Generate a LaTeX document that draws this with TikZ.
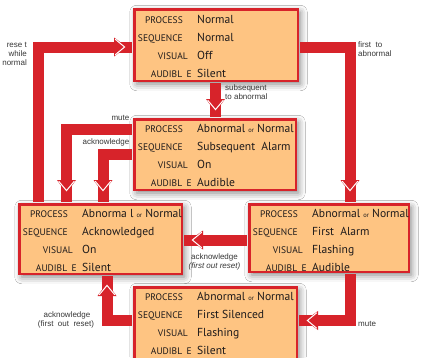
\documentclass[tikz,border=0pt]{standalone}
\usepackage{fontspec}
\setmainfont{PT Sans}
\newfontfamily\capfont{Liberation Sans}
\usetikzlibrary{shadows.blur}
\definecolor{barred}{RGB}{215,35,42}
\definecolor{boxfill}{RGB}{254,196,130}
\definecolor{txt}{RGB}{30,26,27}
\definecolor{captxt}{RGB}{55,55,55}
\newcommand\orf{\fontsize{6.5}{8}\selectfont}
\tikzset{
  statebox/.style={draw=barred, line width=2.5pt, fill=boxfill, inner sep=0pt,
    blur shadow={shadow xshift=2.5pt, shadow yshift=-3pt, shadow blur radius=7pt, shadow opacity=50}},
  bar/.style={draw=barred, line width=11pt, line join=miter, shorten <=1.25pt, shorten >=1.25pt},
  lab/.style={font=\fontsize{9.5}{12}\selectfont, text=txt, inner sep=0pt, anchor=base east},
  val/.style={font=\fontsize{11.6}{14}\selectfont, text=txt, inner sep=0pt, anchor=base west},
  captext/.style={font=\capfont\fontsize{8}{9}\selectfont, text=captxt, inner sep=0pt},
  captextit/.style={font=\capfont\itshape\fontsize{8}{9}\selectfont, text=captxt, inner sep=0pt},
  arrowhd/.pic={
    \fill[barred] (0,0) -- (-13,9.5) -- (-13,-9.5) -- cycle;
    \draw[white, line width=1pt, line join=miter] (-11.8,7.8) -- (-2.4,0) -- (-11.8,-7.8);
  }
}
\newcommand\statetext[7]{%
  \node[lab] (#1l1) at ({#2-14},{#3}) {PROCESS};
  \node[lab] (#1l2) at ({#2-14},{#3+18}) {SEQUENCE};
  \node[lab] (#1l3) at ({#2-9},{#3+36}) {VISUAL};
  \node[lab] (#1l4) at ({#2-5},{#3+54}) {AUDIBL\space\kern2pt E};
  \node[val] (#1v1) at ({#2},{#3}) {#4};
  \node[val] (#1v2) at ({#2},{#3+18}) {#5};
  \node[val] (#1v3) at ({#2},{#3+36}) {#6};
  \node[val] (#1v4) at ({#2},{#3+54}) {#7};
}
\begin{document}
\begin{tikzpicture}[x=1pt, y=-1pt]
\useasboundingbox (0,0) rectangle (422,357);
\clip (0,0) rectangle (422,357);
\fill[white] (0,0) rectangle (422,357);

% boxes
\node[statebox, minimum width=163.5pt, minimum height=71.5pt] (normal) at (216,45) {};
\node[statebox, minimum width=161.5pt, minimum height=70.5pt] (sub) at (215,154.5) {};
\node[statebox, minimum width=162.5pt, minimum height=69.5pt] (ack) at (100.5,239) {};
\node[statebox, minimum width=159.5pt, minimum height=67.5pt] (first) at (329,238) {};
\node[statebox, minimum width=162.5pt, minimum height=73.5pt] (fsil) at (215.5,324) {};

% connectors
\draw[bar] (38,0 |- ack.north) -- (38,47) -- (normal.west |- 0,47);
\draw[bar] (normal.east |- 0,47) -- (350,47) -- (350,0 |- first.north);
\draw[bar] (215.5,0 |- normal.south) -- (215.5,0 |- sub.north);
\draw[bar] (sub.west |- 0,129.5) -- (66.5,129.5) -- (66.5,0 |- ack.north);
\draw[bar] (sub.west |- 0,154) -- (103,154) -- (103,0 |- ack.north);
\draw[bar] (first.west |- 0,240) -- (ack.east |- 0,240);
\draw[bar] (fsil.west |- 0,320.5) -- (107,320.5) -- (107,0 |- ack.south);
\draw[bar] (350,0 |- first.south) -- (350,320.5) -- (fsil.east |- 0,320.5);

% arrowheads
\pic at (127,47) {arrowhd};
\pic[rotate=-90] at (350,193) {arrowhd};
\pic[rotate=-90] at (215.5,112) {arrowhd};
\pic[rotate=-90] at (66.5,193) {arrowhd};
\pic[rotate=-90] at (103,193) {arrowhd};
\pic[rotate=180] at (190,240) {arrowhd};
\pic[rotate=90] at (107,283) {arrowhd};
\pic[rotate=180] at (305,320.5) {arrowhd};

% box texts
\statetext{n}{197}{23.5}{Normal}{Normal}{Off}{Silent}
\statetext{s}{197}{132.5}{Abnormal {\orf or} Normal}{Subsequent\ \ Alarm}{On}{Audible}
\statetext{a}{82}{217.5}{Abnorma l {\orf or} Normal}{Acknowledged}{On}{Silent}
\statetext{f}{312}{217.5}{Abnormal {\orf or} Normal}{First\ \ Alarm}{Flashing}{Audible}
\statetext{q}{197}{300.5}{Abnormal {\orf or} Normal}{First Silenced}{Flashing}{Silent}

% captions
\node[captext, anchor=base east] (c1a) at (27,47.3) {rese t};
\node[captext, anchor=base east] (c1b) at (27,56.3) {while};
\node[captext, anchor=base east] (c1c) at (27,65) {normal};
\node[captext, anchor=base west] (c2a) at (358,47.3) {first\ \ to};
\node[captext, anchor=base west] (c2b) at (358,56.3) {abnormal};
\node[captext, anchor=base west] (c3a) at (225,90.5) {subsequent};
\node[captext, anchor=base west] (c3b) at (225,99) {to abnormal};
\node[captext, anchor=base east] (c4) at (129.5,120) {mute};
\node[captext, anchor=base east] (c5) at (129.5,144.5) {acknowledge};
\node[captext, anchor=base] (c6a) at (214.5,259.5) {acknowledge};
\node[captextit, anchor=base] (c6b) at (214.5,268) {(first out reset)};
\node[captext, anchor=base] (c7a) at (67,317) {acknowledge};
\node[captext, anchor=base] (c7b) at (66,326) {(first\ \ out\ \ reset)};
\node[captext, anchor=base west] (c8) at (358,326.5) {mute};
\end{tikzpicture}
\end{document}
